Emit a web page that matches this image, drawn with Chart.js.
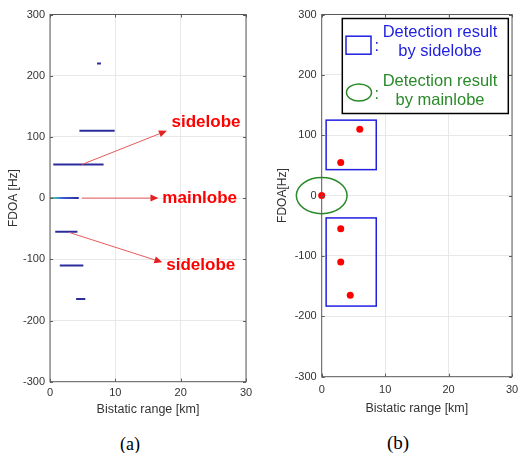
<!DOCTYPE html>
<html>
<head>
<meta charset="utf-8">
<script src="https://cdn.jsdelivr.net/npm/chart.js@4.4.0/dist/chart.umd.min.js"></script>
<style>
body{margin:0;background:#fff;width:518px;height:453px;position:relative;overflow:hidden}
canvas{position:absolute;top:0}
#chartA{left:0}
#chartB{left:260px}
.cap{position:absolute;font-family:"Liberation Serif","Times New Roman",serif;color:#000;transform:translate(-50%,-50%);white-space:nowrap}
</style>
</head>
<body>
<canvas id="chartA" width="260" height="425"></canvas>
<canvas id="chartB" width="258" height="425"></canvas>
<div class="cap" style="left:130px;top:444px;font-size:18px">(a)</div>
<div class="cap" style="left:398px;top:443px;font-size:19px">(b)</div>
<script>
// (a) range-FDOA map, horizontal streaks
const streakFdoa  = [220, 110, 55, 0, -55, -110, -165];
const streakStart = [7.2, 4.5, 0.5, 0, 0.8, 1.5, 4.0];
const streakEnd   = [7.8, 9.9, 8.2, 4.4, 4.2, 5.1, 5.4];

// (b) detected targets
const targetRange = [6, 3, 0, 3, 3, 4.5];
const targetFdoa  = [110, 55, 0, -55, -110, -165];

// (b) detection regions
const boxRangeMin = [0.7, 0.7];
const boxRangeMax = [8.6, 8.6];
const boxFdoaMin  = [43, -183];
const boxFdoaMax  = [125, -37];
const mainRange = 0, mainFdoa = 0, mainRangeRad = 4, mainFdoaRad = 30;

const rangeTicks = [0, 10, 20, 30];
const fdoaTicks  = [-300, -200, -100, 0, 100, 200, 300];

// (a) arrows + labels
const arrowFrom = [[4.9, 55], [4.9, 0], [2.9, -56]];
const arrowTo   = [[17.9, 110], [16.6, 0], [17.2, -105]];
const lobeText  = ['sidelobe', 'mainlobe', 'sidelobe'];
const lobeTextAt = [[18.6, 124], [17.2, 0], [17.8, -110]];

const FONT = '"Liberation Sans", Arial, sans-serif';

/* frame with inward ticks, like matlab box on */
const frame = {
    id: 'frame',
    afterDatasetsDraw(chart){
        const {ctx, chartArea: a, scales} = chart;
        ctx.save();
        ctx.strokeStyle = '#5a5a5a';
        ctx.lineWidth = 1;
        ctx.strokeRect(a.left, a.top, a.right - a.left, a.bottom - a.top);
        ctx.beginPath();
        rangeTicks.forEach(v => {
            const px = Math.round(scales.x.getPixelForValue(v)) + 0.5;
            ctx.moveTo(px, a.top); ctx.lineTo(px, a.top + 3);
            ctx.moveTo(px, a.bottom); ctx.lineTo(px, a.bottom - 3);
        });
        fdoaTicks.forEach(v => {
            const py = Math.round(scales.y.getPixelForValue(v)) + 0.5;
            ctx.moveTo(a.left, py); ctx.lineTo(a.left + 3, py);
            ctx.moveTo(a.right, py); ctx.lineTo(a.right - 3, py);
        });
        ctx.stroke();
        ctx.restore();
    }
};

function drawArrow(ctx, x0, y0, x1, y1){
    const ang = Math.atan2(y1 - y0, x1 - x0);
    const len = 8, hw = 3.5;
    const bx = x1 - len * Math.cos(ang), by = y1 - len * Math.sin(ang);
    ctx.strokeStyle = '#e85a5a';
    ctx.lineWidth = 1;
    ctx.beginPath(); ctx.moveTo(x0, y0); ctx.lineTo(bx, by); ctx.stroke();
    ctx.fillStyle = '#e62020';
    ctx.beginPath();
    ctx.moveTo(x1, y1);
    ctx.lineTo(bx + hw * Math.sin(ang), by - hw * Math.cos(ang));
    ctx.lineTo(bx - hw * Math.sin(ang), by + hw * Math.cos(ang));
    ctx.closePath(); ctx.fill();
}

const lobeNotes = {
    id: 'lobeNotes',
    afterDraw(chart){
        const {ctx, scales: {x, y}} = chart;
        ctx.save();
        arrowFrom.forEach((p, i) => {
            drawArrow(ctx, x.getPixelForValue(p[0]), y.getPixelForValue(p[1]),
                x.getPixelForValue(arrowTo[i][0]), y.getPixelForValue(arrowTo[i][1]));
        });
        ctx.fillStyle = '#ff0000';
        ctx.font = 'bold 17px ' + FONT;
        ctx.textBaseline = 'middle';
        lobeText.forEach((t, i) => {
            ctx.fillText(t, x.getPixelForValue(lobeTextAt[i][0]), y.getPixelForValue(lobeTextAt[i][1]));
        });
        ctx.restore();
    }
};

const regions = {
    id: 'regions',
    beforeDatasetsDraw(chart){
        const {ctx, chartArea: a, scales: {x, y}} = chart;
        ctx.save();
        // sidelobe boxes
        ctx.strokeStyle = '#1f1fe0';
        ctx.lineWidth = 1.5;
        boxRangeMin.forEach((r, i) => {
            const x0 = x.getPixelForValue(r), x1 = x.getPixelForValue(boxRangeMax[i]);
            const y0 = y.getPixelForValue(boxFdoaMax[i]), y1 = y.getPixelForValue(boxFdoaMin[i]);
            ctx.strokeRect(x0, y0, x1 - x0, y1 - y0);
        });
        // mainlobe ellipse
        ctx.strokeStyle = '#2a8a2a';
        ctx.beginPath();
        const cx = x.getPixelForValue(mainRange), cy = y.getPixelForValue(mainFdoa);
        ctx.ellipse(cx, cy, x.getPixelForValue(mainRangeRad) - cx, cy - y.getPixelForValue(mainFdoaRad), 0, 0, Math.PI * 2);
        ctx.stroke();

        // legend box
        const lx = a.left + 20.6, ly = a.top + 4, lw = 166, lh = 95;
        ctx.fillStyle = '#fff';
        ctx.fillRect(lx, ly, lw, lh);
        ctx.strokeStyle = '#000';
        ctx.lineWidth = 1.5;
        ctx.strokeRect(lx, ly, lw, lh);

        ctx.strokeStyle = '#1f1fe0';
        ctx.lineWidth = 1.5;
        ctx.strokeRect(lx + 3.7, ly + 17.7, 25, 18);
        ctx.strokeStyle = '#2a8a2a';
        ctx.beginPath();
        ctx.ellipse(lx + 16.7, ly + 74, 12.5, 8.5, 0, 0, Math.PI * 2);
        ctx.stroke();

        ctx.font = '16.5px ' + FONT;
        ctx.textBaseline = 'middle';
        ctx.textAlign = 'center';
        ctx.fillStyle = '#1f1fe0';
        ctx.fillText(':', lx + 34.5, ly + 27.5);
        ctx.fillText('Detection result', lx + 97.7, ly + 14);
        ctx.fillText('by sidelobe', lx + 97.7, ly + 33.4);
        ctx.fillStyle = '#2a8a2a';
        ctx.fillText(':', lx + 34.5, ly + 76);
        ctx.fillText('Detection result', lx + 97.7, ly + 62.7);
        ctx.fillText('by mainlobe', lx + 97.7, ly + 81.7);
        ctx.restore();
    }
};

function mainlobeColor(c){
    const chart = c.chart;
    if(!chart.chartArea) return '#2c2c9c';
    const xs = chart.scales.x;
    const g = chart.ctx.createLinearGradient(xs.getPixelForValue(0), 0, xs.getPixelForValue(4.4), 0);
    g.addColorStop(0, '#8c9a5a');
    g.addColorStop(0.2, '#40b4b8');
    g.addColorStop(0.45, '#3a5ad8');
    g.addColorStop(1, '#2c2c9c');
    return g;
}

function axes(yWidth, xHeight, yTitle, yTitlePad, xTitlePad, xTickPad){
    return {
        x: {
            type: 'linear', min: 0, max: 30,
            afterBuildTicks: s => { s.ticks = rangeTicks.map(v => ({value: v})); },
            afterFit: s => { s.height = xHeight; s.paddingLeft = 0; s.paddingRight = 0; },
            grid: {color: '#e8e8e8', drawTicks: false},
            border: {display: false},
            ticks: {color: '#333', font: {family: FONT, size: 11}, padding: xTickPad, maxRotation: 0},
            title: {display: true, text: 'Bistatic range [km]', color: '#333',
                font: {family: FONT, size: 12.5}, padding: {top: 0, bottom: xTitlePad}}
        },
        y: {
            type: 'linear', min: -300, max: 300,
            afterBuildTicks: s => { s.ticks = fdoaTicks.map(v => ({value: v})); },
            afterFit: s => { s.width = yWidth; s.paddingTop = 0; s.paddingBottom = 0; },
            grid: {color: '#e8e8e8', drawTicks: false},
            border: {display: false},
            ticks: {color: '#333', font: {family: FONT, size: 11}, padding: 5},
            title: {display: true, text: yTitle, color: '#333',
                font: {family: FONT, size: 12}, padding: {top: yTitlePad, bottom: 0}}
        }
    };
}

const baseOpts = {
    responsive: false,
    animation: false,
    events: [],
    plugins: {legend: {display: false}, tooltip: {enabled: false}}
};

new Chart(document.getElementById('chartA'), {
    type: 'scatter',
    data: {
        datasets: streakFdoa.map((f, i) => ({
            data: [{x: streakStart[i], y: f}, {x: streakEnd[i], y: f}],
            showLine: true,
            borderColor: f === 0 ? mainlobeColor : '#2c2c9c',
            borderWidth: 2,
            pointRadius: 0
        }))
    },
    options: Object.assign({}, baseOpts, {
        layout: {padding: {left: 0, right: 14, top: 14.5, bottom: 0}},
        scales: axes(50, 43.3, 'FDOA [Hz]', 6.5, 7.5, 5)
    }),
    plugins: [frame, lobeNotes]
});

new Chart(document.getElementById('chartB'), {
    type: 'scatter',
    data: {
        datasets: [{
            data: targetRange.map((r, i) => ({x: r, y: targetFdoa[i]})),
            backgroundColor: '#ff0000',
            borderWidth: 0,
            pointRadius: 3.5,
            clip: false
        }]
    },
    options: Object.assign({}, baseOpts, {
        layout: {padding: {left: 0, right: 6, top: 14.5, bottom: 0}},
        scales: axes(61.7, 48.3, 'FDOA[Hz]', 15.5, 9, 7)
    }),
    plugins: [regions, frame]
});
</script>
</body>
</html>
